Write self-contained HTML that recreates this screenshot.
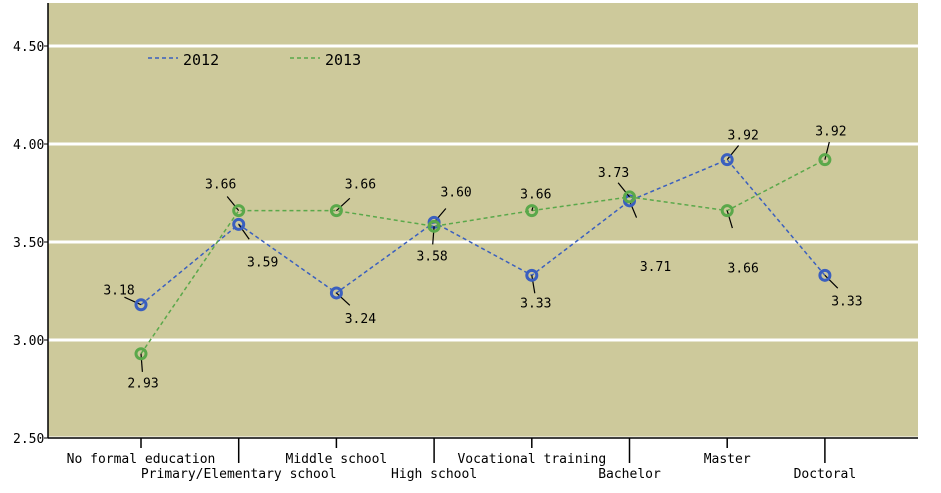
<!DOCTYPE html>
<html><head><meta charset="utf-8"><style>
body{margin:0;background:#fff;}
svg text{font-family:"DejaVu Sans Mono","Liberation Mono",monospace;font-size:13px;fill:#000;}
</style></head><body>
<svg id="chart" width="941" height="488" viewBox="0 0 941 488" xmlns="http://www.w3.org/2000/svg"></svg>
<script>
const categories=["No formal education","Primary/Elementary school","Middle school","High school","Vocational training","Bachelor","Master","Doctoral"];
const values2012=[3.18,3.59,3.24,3.60,3.33,3.71,3.92,3.33];
const values2013=[2.93,3.66,3.66,3.58,3.66,3.73,3.66,3.92];
const yTicks=[2.5,3.0,3.5,4.0,4.5];
const yTickLabels=["2.50","3.00","3.50","4.00","4.50"];
// label offsets (layout, not data)
const off2012=[[-22,-10],[24,34],[24,22],[22,-26],[4,24],[26,62],[16,-20],[22,22]];
const off2013=[[2,26],[-18,-22],[24,-22],[-2,26],[4,-12],[-16,-20],[16,54],[6,-24]];
const NS="http://www.w3.org/2000/svg";
const svg=document.getElementById('chart');
const L=48,R=918,T=3,B=438;
function y(v){return B-(v-2.5)*196;}
function x(i){return 141+i*97.7;}
function el(tag,a,p){const e=document.createElementNS(NS,tag);for(const k in a)e.setAttribute(k,a[k]);(p||svg).appendChild(e);return e;}
const bg=el('rect',{x:L,y:T,width:R-L,height:B-T,fill:'#cdc99b'});


yTicks.forEach((t,i)=>{
  const g=el('line',{x1:L,x2:R,y1:y(t),y2:y(t),stroke:'#fff','stroke-width':3});
  
  
  el('line',{x1:L-4,x2:L,y1:y(t),y2:y(t),stroke:'#000'});
  const tx=el('text',{x:L-35,y:y(t)+5});tx.textContent=yTickLabels[i];
  
  
});
el('line',{x1:L,x2:L,y1:T,y2:B,stroke:'#000','stroke-width':1.5});
el('line',{x1:L,x2:R,y1:B,y2:B,stroke:'#000','stroke-width':1.5});
categories.forEach((c,i)=>{
  const long=i%2===1;
  el('line',{x1:x(i),x2:x(i),y1:B,y2:long?463:448,stroke:'#000','stroke-width':1.5});
  const t=el('text',{x:x(i),y:long?478:463,'text-anchor':'middle'});t.textContent=c;
  
  
});
function series(vals,offs,color,name){
  const pts=vals.map((v,i)=>x(i)+','+y(v)).join(' ');
  const pl=el('polyline',{points:pts,fill:'none',stroke:color,'stroke-width':1.5,'stroke-dasharray':'4,3'});
  
  
  vals.forEach((v,i)=>{
    const px=x(i),py=y(v),[dx,dy]=offs[i];
    const len=Math.hypot(dx,dy);
    el('line',{x1:px,y1:py,x2:px+dx*(Math.min(len-10,14)/len)*1.3,y2:py+dy*(Math.min(len-10,14)/len)*1.3,stroke:'#000','stroke-width':1.2});
    const c=el('circle',{cx:px,cy:py,r:5,fill:'none',stroke:color,'stroke-width':3});
    
    
    const t=el('text',{x:px+dx,y:py+dy+(dy>0?8:0),'text-anchor':'middle'});t.textContent=v.toFixed(2);
    
    
  });
}
series(values2012,off2012,'#3a5fbf','series-2012');
series(values2013,off2013,'#5aa84a','series-2013');
[['2012','#3a5fbf',148],['2013','#5aa84a',290]].forEach(([n,c,lx])=>{
  const g=el('g',{});
  
  
  el('line',{x1:lx,x2:lx+30,y1:58,y2:58,stroke:c,'stroke-width':1.5,'stroke-dasharray':'4,3'},g);
  const t=el('text',{x:lx+35,y:65,style:'font-size:15px'},g);t.textContent=n;
});
</script>
</body></html>
